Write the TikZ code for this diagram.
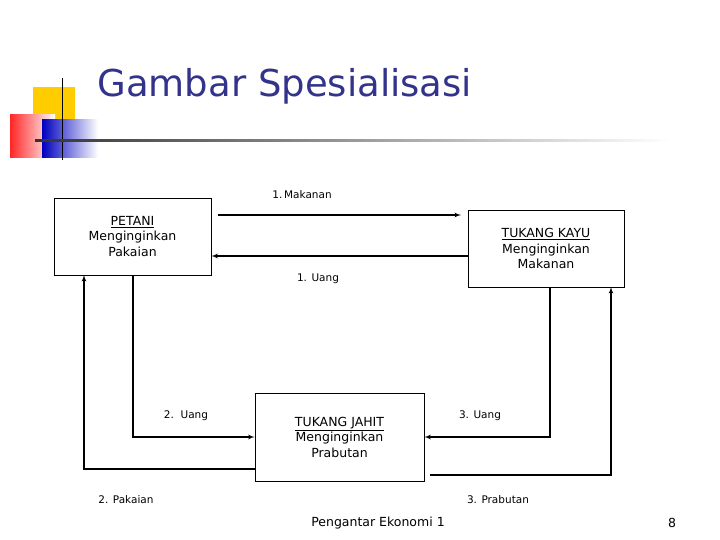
\documentclass[tikz,border=0pt]{standalone}
\usepackage{fontspec}
\setmainfont{DejaVu Sans}
\usetikzlibrary{arrows,positioning,calc}
\definecolor{titleblue}{RGB}{51,51,140}
\definecolor{ornyellow}{RGB}{255,204,0}
\begin{document}
\begin{tikzpicture}
[x=1pt,y=-1pt,
box/.style={draw,thick,inner sep=0pt},
lbl/.style={font=\fontsize{10.5}{13}\selectfont,align=center},
boxlbl/.style={font=\fontsize{12.5}{15.5}\selectfont,align=center},
flow/.style={black,very thick,>=latex', shorten >=0pt, shorten <=0pt}]
\useasboundingbox (0,0) rectangle (720,540);
%%
%%%%%%%%%%%%%%%%%%
% Title and ornament
%%%%%%%%%%%%%%%%%%
\fill[ornyellow] (33,87) rectangle (75,128);
\shade[left color=red!85,right color=white] (10,115) rectangle (55,158);
\shade[left color=blue!75!black,right color=white] (42,120) rectangle (98,158);
\draw[thick] (62,78) -- (62,160);
\shade[left color=black!80,right color=white] (35,140) rectangle (670,142);
\node[anchor=west,text=titleblue,font=\fontsize{37}{44}\selectfont] (title) at (94,86) {Gambar Spesialisasi};
%%
%%%%%%%%%%%%%%%%%%
% Boxes
%%%%%%%%%%%%%%%%%%
\node[box,minimum width=157,minimum height=77] (petani) at (132.5,236.5) {};
\node[boxlbl] at (petani) {\underline{PETANI}\\Menginginkan\\Pakaian};
\node[box,minimum width=156,minimum height=77] (kayu) at (546,248.5) {};
\node[boxlbl] at (kayu) {\underline{TUKANG KAYU}\\Menginginkan\\Makanan};
\node[box,minimum width=169,minimum height=88] (jahit) at (339.5,437) {};
\node[boxlbl] at (jahit) {\underline{TUKANG JAHIT}\\Menginginkan\\Prabutan};
%%
%%%%%%%%%%%%%%%%%%
% Flows
%%%%%%%%%%%%%%%%%%
\coordinate (m1) at (218,215);
\coordinate (m2) at (461,215);
\draw[flow,->] (m1) -- (m2);
\draw[flow,->] (kayu.west |- 0,256) -- (petani.east |- 0,256);
\draw[flow,->] (133,275) |- (jahit.west |- 0,437);
\draw[flow,->] (550,287) |- (jahit.east |- 0,437);
\draw[flow,->] (jahit.west |- 0,469) -| (84,275);
\coordinate (p1) at (430,475);
\draw[flow,->] (p1) -| (611,287);
%%
\node[lbl] (makanan) at (302,195) {1.\,Makanan};
\node[lbl] (uang1) at (318,279) {1. Uang};
\node[lbl] (uang2) at (186,416) {2.~~Uang};
\node[lbl] (uang3) at (480,416) {3. Uang};
\node[lbl] (pakaian) at (126,500) {2. Pakaian};
\node[lbl] (prabutan) at (498,500) {3. Prabutan};
\node[font=\fontsize{12.5}{15}\selectfont] (footer) at (378,523) {Pengantar Ekonomi 1};
\node[font=\fontsize{12.5}{15}\selectfont] (page) at (672,523) {8};
\end{tikzpicture}
\end{document}
